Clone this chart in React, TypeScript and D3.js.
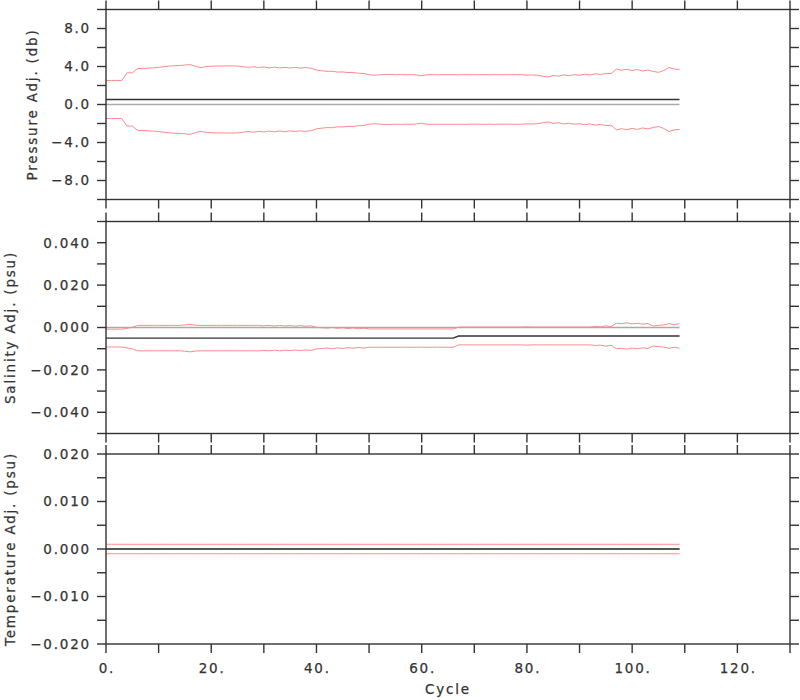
import React from "react";
import * as d3 from "d3";

// ---------- data (one value per cycle, cycle = index 0..109) ----------
const pressureAdj = [
  0.53, 0.53, 0.53, 0.53, 0.53, 0.53, 0.53, 0.53, 0.53, 0.53,
  0.53, 0.53, 0.53, 0.53, 0.53, 0.53, 0.53, 0.53, 0.53, 0.53,
  0.53, 0.53, 0.53, 0.53, 0.53, 0.53, 0.53, 0.53, 0.53, 0.53,
  0.53, 0.53, 0.53, 0.53, 0.53, 0.53, 0.53, 0.53, 0.53, 0.53,
  0.53, 0.53, 0.53, 0.53, 0.53, 0.53, 0.53, 0.53, 0.53, 0.53,
  0.53, 0.53, 0.53, 0.53, 0.53, 0.53, 0.53, 0.53, 0.53, 0.53,
  0.53, 0.53, 0.53, 0.53, 0.53, 0.53, 0.53, 0.53, 0.53, 0.53,
  0.53, 0.53, 0.53, 0.53, 0.53, 0.53, 0.53, 0.53, 0.53, 0.53,
  0.53, 0.53, 0.53, 0.53, 0.53, 0.53, 0.53, 0.53, 0.53, 0.53,
  0.53, 0.53, 0.53, 0.53, 0.53, 0.53, 0.53, 0.53, 0.53, 0.53,
  0.53, 0.53, 0.53, 0.53, 0.53, 0.53, 0.53, 0.53, 0.53, 0.53,
];
const pressureErr = [
  2.0, 2.0, 2.0, 2.0, 2.8, 2.8, 3.25, 3.27, 3.3, 3.33,
  3.38, 3.45, 3.52, 3.55, 3.58, 3.62, 3.67, 3.5, 3.35, 3.45,
  3.5, 3.52, 3.52, 3.53, 3.53, 3.52, 3.45, 3.38, 3.44, 3.36,
  3.42, 3.33, 3.4, 3.32, 3.38, 3.31, 3.37, 3.3, 3.36, 3.28,
  3.1, 3.02, 2.96, 2.97, 2.88, 2.9, 2.83, 2.84, 2.76, 2.74,
  2.6, 2.55, 2.6, 2.62, 2.63, 2.6, 2.62, 2.6, 2.62, 2.58,
  2.5, 2.6, 2.62, 2.6, 2.62, 2.6, 2.62, 2.6, 2.62, 2.6,
  2.61, 2.6, 2.62, 2.6, 2.62, 2.6, 2.61, 2.6, 2.62, 2.6,
  2.57, 2.58, 2.55, 2.45, 2.37, 2.52, 2.45, 2.58, 2.5, 2.62,
  2.55, 2.66, 2.58, 2.7, 2.62, 2.75, 2.72, 3.2, 3.08, 3.18,
  3.05, 3.15, 3.0, 3.1, 2.95, 2.85, 3.05, 3.37, 3.2, 3.15,
];

const salinityAdj = [
  -0.005, -0.005, -0.005, -0.005, -0.005, -0.005, -0.005, -0.005, -0.005, -0.005,
  -0.005, -0.005, -0.005, -0.005, -0.005, -0.005, -0.005, -0.005, -0.005, -0.005,
  -0.005, -0.005, -0.005, -0.005, -0.005, -0.005, -0.005, -0.005, -0.005, -0.005,
  -0.005, -0.005, -0.005, -0.005, -0.005, -0.005, -0.005, -0.005, -0.005, -0.005,
  -0.005, -0.005, -0.005, -0.005, -0.005, -0.005, -0.005, -0.005, -0.005, -0.005,
  -0.005, -0.005, -0.005, -0.005, -0.005, -0.005, -0.005, -0.005, -0.005, -0.005,
  -0.005, -0.005, -0.005, -0.005, -0.005, -0.005, -0.005, -0.004, -0.004, -0.004,
  -0.004, -0.004, -0.004, -0.004, -0.004, -0.004, -0.004, -0.004, -0.004, -0.004,
  -0.004, -0.004, -0.004, -0.004, -0.004, -0.004, -0.004, -0.004, -0.004, -0.004,
  -0.004, -0.004, -0.004, -0.004, -0.004, -0.004, -0.004, -0.004, -0.004, -0.004,
  -0.004, -0.004, -0.004, -0.004, -0.004, -0.004, -0.004, -0.004, -0.004, -0.004,
];
const salinityErr = [
  0.0042, 0.0042, 0.0042, 0.0042, 0.0046, 0.0051, 0.006, 0.006, 0.006, 0.006,
  0.006, 0.006, 0.006, 0.006, 0.006, 0.0062, 0.0065, 0.0061, 0.006, 0.006,
  0.006, 0.006, 0.006, 0.006, 0.006, 0.006, 0.006, 0.006, 0.006, 0.006,
  0.0058, 0.006, 0.0057, 0.006, 0.0057, 0.0059, 0.0056, 0.0059, 0.0056, 0.0058,
  0.0051, 0.0049, 0.0047, 0.005, 0.0046, 0.0049, 0.0045, 0.0048, 0.0044, 0.0047,
  0.0043, 0.0043, 0.0043, 0.0043, 0.0043, 0.0043, 0.0043, 0.0043, 0.0043, 0.0043,
  0.0043, 0.0043, 0.0043, 0.0043, 0.0043, 0.0043, 0.0043, 0.0042, 0.0042, 0.0042,
  0.0042, 0.0042, 0.0042, 0.0042, 0.0042, 0.0042, 0.0042, 0.0042, 0.0042, 0.0042,
  0.0043, 0.0042, 0.0042, 0.0042, 0.0042, 0.0042, 0.0042, 0.0042, 0.0042, 0.0042,
  0.0042, 0.0042, 0.0042, 0.0045, 0.0043, 0.0048, 0.0044, 0.006, 0.0058, 0.0062,
  0.0057, 0.006, 0.0056, 0.0059, 0.0047, 0.005, 0.0052, 0.0058, 0.0053, 0.0058,
];

const temperatureAdj = [
  0, 0, 0, 0, 0, 0, 0, 0, 0, 0, 0, 0, 0, 0, 0, 0, 0, 0, 0, 0, 0, 0,
  0, 0, 0, 0, 0, 0, 0, 0, 0, 0, 0, 0, 0, 0, 0, 0, 0, 0, 0, 0, 0, 0,
  0, 0, 0, 0, 0, 0, 0, 0, 0, 0, 0, 0, 0, 0, 0, 0, 0, 0, 0, 0, 0, 0,
  0, 0, 0, 0, 0, 0, 0, 0, 0, 0, 0, 0, 0, 0, 0, 0, 0, 0, 0, 0, 0, 0,
  0, 0, 0, 0, 0, 0, 0, 0, 0, 0, 0, 0, 0, 0, 0, 0, 0, 0, 0, 0, 0, 0,
];
const temperatureErr = [
  0.001, 0.001, 0.001, 0.001, 0.001, 0.001, 0.001, 0.001, 0.001, 0.001, 0.001,
  0.001, 0.001, 0.001, 0.001, 0.001, 0.001, 0.001, 0.001, 0.001, 0.001, 0.001,
  0.001, 0.001, 0.001, 0.001, 0.001, 0.001, 0.001, 0.001, 0.001, 0.001, 0.001,
  0.001, 0.001, 0.001, 0.001, 0.001, 0.001, 0.001, 0.001, 0.001, 0.001, 0.001,
  0.001, 0.001, 0.001, 0.001, 0.001, 0.001, 0.001, 0.001, 0.001, 0.001, 0.001,
  0.001, 0.001, 0.001, 0.001, 0.001, 0.001, 0.001, 0.001, 0.001, 0.001, 0.001,
  0.001, 0.001, 0.001, 0.001, 0.001, 0.001, 0.001, 0.001, 0.001, 0.001, 0.001,
  0.001, 0.001, 0.001, 0.001, 0.001, 0.001, 0.001, 0.001, 0.001, 0.001, 0.001,
  0.001, 0.001, 0.001, 0.001, 0.001, 0.001, 0.001, 0.001, 0.001, 0.001, 0.001,
  0.001, 0.001, 0.001, 0.001, 0.001, 0.001, 0.001, 0.001, 0.001, 0.001, 0.001,
];

const xDomain = [0, 130];
const xLabelStep = 20;
const xTitle = "Cycle";

const panels = [
  { title: "Pressure Adj. (db)", adj: pressureAdj, err: pressureErr, domain: [-10, 10], tickCount: 10, labelEvery: 4, step: 2, fmt: ".1f" },
  { title: "Salinity Adj. (psu)", adj: salinityAdj, err: salinityErr, domain: [-0.05, 0.05], tickCount: 10, labelEvery: 0.02, step: 0.01, fmt: ".3f" },
  { title: "Temperature Adj. (psu)", adj: temperatureAdj, err: temperatureErr, domain: [-0.02, 0.02], tickCount: 8, labelEvery: 0.01, step: 0.005, fmt: ".3f" },
];

// ---------- layout ----------
const LEFT = 106;
const RIGHT = 790;
const frames = [
  { top: 9.5, bottom: 199.5, titleX: 37 },
  { top: 221.5, bottom: 433.5, titleX: 15 },
  { top: 454, bottom: 644, titleX: 15 },
];
const TICK = 9;
const AXIS = "#333";
const FONT = "DejaVu Sans, sans-serif";
const FS = 13.5;
const LS = 1.8;
const TXT = { fontSize: FS, letterSpacing: LS, fill: "#333", stroke: "#333", strokeWidth: 0.25 };

export default function App() {
  const x = d3.scaleLinear().domain(xDomain).range([LEFT, RIGHT]);
  const xTicks = x.ticks(13);

  return (
    <svg
      width={800}
      height={700}
      style={{ position: "absolute", left: 0, top: 0, background: "#fff" }}
      fontFamily={FONT}
    >
      <rect x={0} y={0} width={800} height={700} fill="#fff" />
      {panels.map((p, pi) => {
        const f = frames[pi];
        const y = d3.scaleLinear().domain(p.domain).range([f.bottom, f.top]);
        const yTicks = y.ticks(p.tickCount);
        const fmt = d3.format(p.fmt);
        const n = p.adj.length;
        const line = d3
          .line<number>()
          .x((_, i) => x(i))
          .y((d) => y(d));
        const upper = p.adj.map((a, i) => a + p.err[i]);
        const lower = p.adj.map((a, i) => a - p.err[i]);
        const isLabel = (v: number) =>
          Math.abs(Math.round(v / p.step) % Math.round(p.labelEvery / p.step)) === 0;
        return (
          <g key={pi}>
            {/* zero reference */}
            <line x1={x(0)} x2={x(n - 1)} y1={y(0)} y2={y(0)} stroke="#aaa" strokeWidth={1.6} />
            <path d={line(upper) || ""} fill="none" stroke="#ff8a8a" strokeWidth={1} />
            <path d={line(lower) || ""} fill="none" stroke="#ff8a8a" strokeWidth={1} />
            <path d={line(p.adj) || ""} fill="none" stroke="#333" strokeWidth={1.4} />
            {/* frame */}
            <rect x={LEFT} y={f.top} width={RIGHT - LEFT} height={f.bottom - f.top} fill="none" stroke={AXIS} strokeWidth={1.4} />
            {/* y ticks */}
            {yTicks.map((v, i) => (
              <g key={"y" + i}>
                <line x1={LEFT - TICK} x2={LEFT} y1={y(v)} y2={y(v)} stroke={AXIS} strokeWidth={1.4} />
                <line x1={RIGHT} x2={RIGHT + TICK} y1={y(v)} y2={y(v)} stroke={AXIS} strokeWidth={1.4} />
                {isLabel(v) && (
                  <text x={LEFT - 15} y={y(v)} dy="0.36em" textAnchor="end" {...TXT}>
                    {fmt(v)}
                  </text>
                )}
              </g>
            ))}
            {/* x ticks */}
            {xTicks.map((v, i) => (
              <g key={"x" + i}>
                <line x1={x(v)} x2={x(v)} y1={f.top - TICK} y2={f.top} stroke={AXIS} strokeWidth={1.4} />
                <line x1={x(v)} x2={x(v)} y1={f.bottom} y2={f.bottom + TICK} stroke={AXIS} strokeWidth={1.4} />
              </g>
            ))}
            {/* y title */}
            <text
              transform={`translate(${f.titleX},${(f.top + f.bottom) / 2}) rotate(-90)`}
              textAnchor="middle"
              {...TXT}
            >
              {p.title}
            </text>
          </g>
        );
      })}
      {/* x labels */}
      {xTicks
        .filter((v) => v % xLabelStep === 0)
        .map((v, i) => (
          <text key={i} x={x(v) + LS / 2} y={673} textAnchor="middle" {...TXT}>
            {d3.format("d")(v) + "."}
          </text>
        ))}
      <text x={(LEFT + RIGHT) / 2} y={694} textAnchor="middle" {...TXT}>
        {xTitle}
      </text>
    </svg>
  );
}
